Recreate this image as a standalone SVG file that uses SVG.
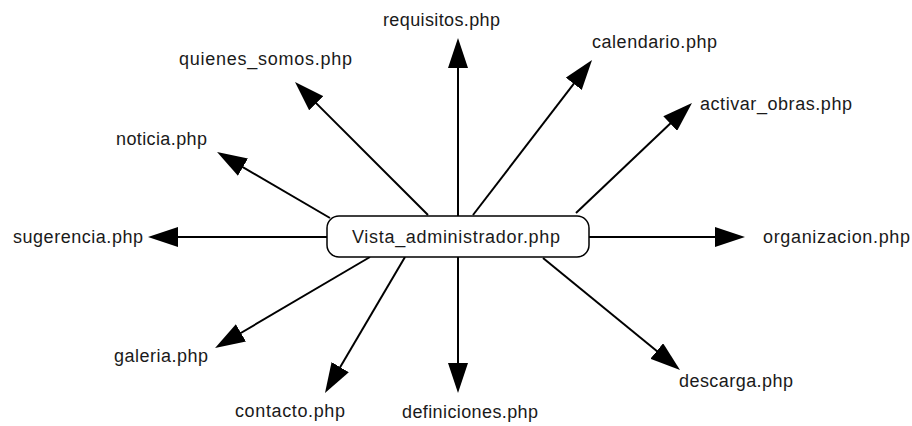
<svg xmlns="http://www.w3.org/2000/svg" width="912" height="426" viewBox="0 0 912 426">
<style>
.lbl{font-family:"Liberation Sans",Arial,sans-serif;font-size:18px;fill:#1a1a1a}
.c line{stroke:#000;stroke-width:2;fill:none;marker-end:url(#ah)}
.node rect{fill:#fff;stroke:#000;stroke-width:1.5}
</style>
<defs>
<marker id="ah" markerUnits="userSpaceOnUse" markerWidth="30" markerHeight="20" refX="15" refY="10" orient="auto" viewBox="0 0 30 20">
<path d="M0,0 L30,10 L0,20 Z" fill="#000"/>
</marker>
</defs>
<rect width="912" height="426" fill="#fff"/>
<g id="connectors" class="c">
<line x1="458" y1="216" x2="458" y2="53"/>
<line x1="473" y1="215" x2="582.9" y2="71.9"/>
<line x1="576" y1="213" x2="681.1" y2="113.3"/>
<line x1="589" y1="237" x2="730" y2="237"/>
<line x1="543" y1="258" x2="668.4" y2="360.5"/>
<line x1="458" y1="257" x2="458" y2="378"/>
<line x1="405" y1="257" x2="332.6" y2="380.1"/>
<line x1="370" y1="257" x2="228" y2="340.5"/>
<line x1="327" y1="237" x2="163" y2="237"/>
<line x1="330" y1="218" x2="230" y2="159.6"/>
<line x1="428" y1="215" x2="305.6" y2="92.6"/>
</g>
<g id="vista_administrador" class="node">
<rect x="327" y="216" width="262" height="41" rx="12"/>
<text class="lbl" x="352" y="243" textLength="208" lengthAdjust="spacing">Vista_administrador.php</text>
</g>
<g id="requisitos"><text class="lbl" x="383" y="26" textLength="117" lengthAdjust="spacing">requisitos.php</text></g>
<g id="calendario"><text class="lbl" x="592" y="48" textLength="125" lengthAdjust="spacing">calendario.php</text></g>
<g id="activar_obras"><text class="lbl" x="700" y="110" textLength="152" lengthAdjust="spacing">activar_obras.php</text></g>
<g id="organizacion"><text class="lbl" x="763" y="243" textLength="147" lengthAdjust="spacing">organizacion.php</text></g>
<g id="descarga"><text class="lbl" x="679" y="387" textLength="114" lengthAdjust="spacing">descarga.php</text></g>
<g id="definiciones"><text class="lbl" x="402" y="418" textLength="136" lengthAdjust="spacing">definiciones.php</text></g>
<g id="contacto"><text class="lbl" x="235" y="417" textLength="110" lengthAdjust="spacing">contacto.php</text></g>
<g id="galeria"><text class="lbl" x="114" y="362" textLength="94" lengthAdjust="spacing">galeria.php</text></g>
<g id="sugerencia"><text class="lbl" x="13" y="243" textLength="130" lengthAdjust="spacing">sugerencia.php</text></g>
<g id="noticia"><text class="lbl" x="116" y="145" textLength="91" lengthAdjust="spacing">noticia.php</text></g>
<g id="quienes_somos"><text class="lbl" x="179" y="65" textLength="173" lengthAdjust="spacing">quienes_somos.php</text></g>
</svg>
